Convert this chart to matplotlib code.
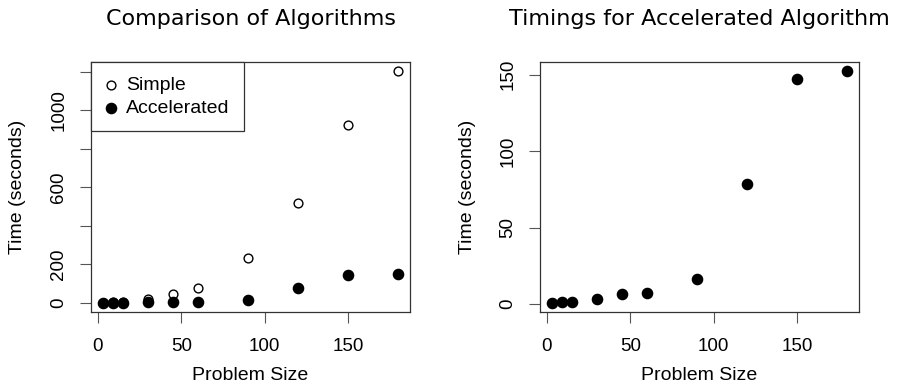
import matplotlib
matplotlib.use("Agg")
import matplotlib.pyplot as plt
import numpy as np

# problem sizes and timings (seconds)
sizes = [3, 9, 15, 30, 45, 60, 90, 120, 150, 180]
simple = [1, 3, 6, 22, 48, 78, 232, 520, 924, 1203]
accelerated = [0.9, 1.3, 1.3, 3.5, 6.8, 7.2, 16.4, 78.2, 147.4, 152.2]

left_yticks = [0, 200, 400, 600, 800, 1000, 1200]
left_ylabels = ["0", "200", "", "600", "", "1000", ""]
right_yticks = [0, 50, 100, 150]
xticks = [0, 50, 100, 150]

W, H = 898, 385
plt.rcParams["font.family"] = ["Liberation Sans", "DejaVu Sans"]
fig = plt.figure(figsize=(W / 100, H / 100), dpi=100)

def px_axes(x0, x1, y0, y1):
    return fig.add_axes([x0 / W, 1 - y1 / H, (x1 - x0) / W, (y1 - y0) / H])

def pad_range(vals):
    lo, hi = min(vals), max(vals)
    d = (hi - lo) * 0.04
    return lo - d, hi + d

def style(ax, yticks, ylabels, ylab_x):
    ax.set_xlim(*pad_range(sizes))
    ax.set_xticks(xticks)
    ax.set_xticklabels([str(t) for t in xticks])
    ax.set_yticks(yticks)
    ax.set_yticklabels(ylabels, rotation=90, va="center")
    ax.tick_params(length=8, width=0.8, labelsize=13.5, color="#555555")
    ax.tick_params(axis="x", pad=11)
    ax.tick_params(axis="y", pad=9)
    for s in ax.spines.values():
        s.set_linewidth(0.9)
        s.set_color("#333333")
    ax.set_xlabel("Problem Size", fontsize=14, va="center")
    ax.set_ylabel("Time (seconds)", fontsize=14, va="center")
    ax.xaxis.set_label_coords(0.5, -(375 - 312) / 250)
    ax.yaxis.set_label_coords(ylab_x, 0.5)

# left panel
ax1 = px_axes(91, 410, 62, 312)
ax1.scatter(sizes, simple, s=40, facecolors="white", edgecolors="black",
            linewidths=1.0, label="Simple", zorder=3)
ax1.scatter(sizes, accelerated, s=54, color="black", label="Accelerated", zorder=4)
ax1.set_ylim(*pad_range(simple))
style(ax1, left_yticks, left_ylabels, (18 - 91) / 319)
leg = ax1.legend(loc="upper left", borderaxespad=0, fancybox=False,
                 edgecolor="#333333", fontsize=14, handletextpad=0.45,
                 borderpad=0.75, labelspacing=0.25, handlelength=0.6,
                 framealpha=1)
leg.get_frame().set_linewidth(0.9)

# right panel
ax2 = px_axes(540, 859, 62, 312)
ax2.scatter(sizes, accelerated, s=54, color="black", zorder=3)
ax2.set_ylim(*pad_range(accelerated))
style(ax2, right_yticks, [str(t) for t in right_yticks], (468 - 540) / 319)

# titles
for ax, title in [(ax1, "Comparison of Algorithms"),
                  (ax2, "Timings for Accelerated Algorithm")]:
    b = ax.get_position()
    fig.text((b.x0 + b.x1) / 2, 1 - 25 / H, title, ha="center",
             va="baseline", fontsize=16, family="DejaVu Sans")

fig.savefig("out.png", dpi=100)
